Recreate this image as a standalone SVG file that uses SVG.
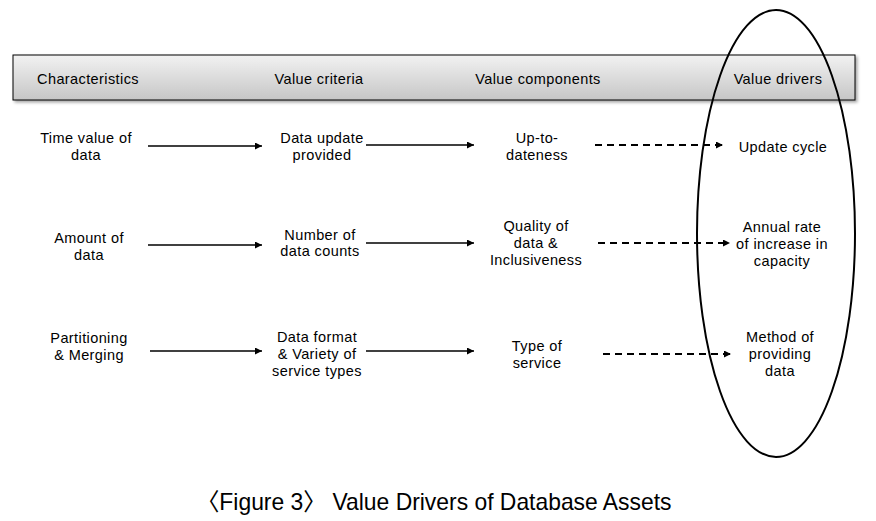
<svg xmlns="http://www.w3.org/2000/svg" width="876" height="521" viewBox="0 0 876 521">
<defs>
<linearGradient id="hdr" x1="0" y1="0" x2="0" y2="1">
<stop offset="0" stop-color="#f2f2f2"/>
<stop offset="1" stop-color="#c6c6c6"/>
</linearGradient>
<filter id="sh" x="-5%" y="-20%" width="110%" height="150%">
<feDropShadow dx="2" dy="2" stdDeviation="1.5" flood-color="#000" flood-opacity="0.35"/>
</filter>
<marker id="ah" viewBox="0 0 10 10" refX="10" refY="5" markerWidth="9" markerHeight="7" markerUnits="userSpaceOnUse" orient="auto">
<path d="M0,0 L10,5 L0,10 z" fill="#000"/>
</marker>
</defs>
<style>
text{font-family:"Liberation Sans","Noto Sans CJK KR",sans-serif;font-size:14.5px;letter-spacing:0.4px;fill:#000;text-anchor:middle}
.cap{font-size:24px;letter-spacing:0}
.s{stroke:#000;stroke-width:1.5;fill:none}
.d{stroke:#000;stroke-width:2;fill:none;stroke-dasharray:7,5}
</style>
<rect width="876" height="521" fill="#fff"/>
<g id="header">
<rect x="13" y="55" width="842" height="45" fill="url(#hdr)" stroke="#000" stroke-width="1" filter="url(#sh)"/>
<text x="88" y="84">Characteristics</text>
<text x="319" y="84">Value criteria</text>
<text x="538" y="84">Value components</text>
<text x="778" y="84">Value drivers</text>
</g>
<g id="c1"><text x="86" y="143">Time value of</text><text x="86" y="160">data</text></g>
<g id="c2"><text x="89" y="243">Amount of</text><text x="89" y="260">data</text></g>
<g id="c3"><text x="89" y="343">Partitioning</text><text x="89" y="360">&amp; Merging</text></g>
<g id="v1"><text x="322" y="143">Data update</text><text x="322" y="160">provided</text></g>
<g id="v2"><text x="320" y="240">Number of</text><text x="320" y="256">data counts</text></g>
<g id="v3"><text x="317" y="342">Data format</text><text x="317" y="359">&amp; Variety of</text><text x="317" y="376">service types</text></g>
<g id="p1"><text x="537" y="143">Up-to-</text><text x="537" y="160">dateness</text></g>
<g id="p2"><text x="536" y="231">Quality of</text><text x="536" y="248">data &amp;</text><text x="536" y="265">Inclusiveness</text></g>
<g id="p3"><text x="537" y="351">Type of</text><text x="537" y="368">service</text></g>
<g id="d1"><text x="783" y="152">Update cycle</text></g>
<g id="d2"><text x="782" y="232">Annual rate</text><text x="782" y="249">of increase in</text><text x="782" y="266">capacity</text></g>
<g id="d3"><text x="780" y="342">Method of</text><text x="780" y="359">providing</text><text x="780" y="376">data</text></g>
<g id="connectors">
<line class="s" x1="148" y1="146" x2="262" y2="146" marker-end="url(#ah)"/>
<line class="s" x1="148" y1="245" x2="262" y2="245" marker-end="url(#ah)"/>
<line class="s" x1="150" y1="351" x2="262" y2="351" marker-end="url(#ah)"/>
<line class="s" x1="366" y1="145" x2="474" y2="145" marker-end="url(#ah)"/>
<line class="s" x1="366" y1="243" x2="474" y2="243" marker-end="url(#ah)"/>
<line class="s" x1="366" y1="351" x2="474" y2="351" marker-end="url(#ah)"/>
<line class="d" x1="595" y1="145" x2="723" y2="145" marker-end="url(#ah)"/>
<line class="d" x1="598" y1="243" x2="730" y2="243" marker-end="url(#ah)"/>
<line class="d" x1="603" y1="354" x2="731" y2="354" marker-end="url(#ah)"/>
</g>
<g id="highlight">
<ellipse cx="776" cy="233.5" rx="79" ry="223.5" fill="none" stroke="#000" stroke-width="2"/>
</g>
<g id="caption">
<text class="cap" x="434" y="510" textLength="475" lengthAdjust="spacingAndGlyphs">〈Figure 3〉 Value Drivers of Database Assets</text>
</g>
</svg>
